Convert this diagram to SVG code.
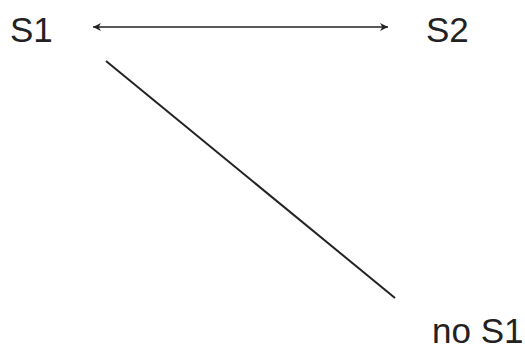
<svg xmlns="http://www.w3.org/2000/svg" width="525" height="361" viewBox="0 0 525 361">
<defs>
<style>
text{font-family:"Liberation Sans",Arial,sans-serif;font-size:35px;fill:#222}
.c{stroke:#222;fill:none}
</style>
<marker id="ah" viewBox="0 0 10 10" refX="10" refY="5" markerWidth="8" markerHeight="8" markerUnits="userSpaceOnUse" orient="auto-start-reverse">
<path d="M0,0 L10,5 L0,10 L3,5 z" fill="#222"/>
</marker>
</defs>
<rect width="525" height="361" fill="#fff"/>
<g id="connectors">
<line class="c" x1="93" y1="27" x2="388" y2="27" stroke-width="1.3" marker-start="url(#ah)" marker-end="url(#ah)"/>
<line class="c" x1="106" y1="61" x2="395" y2="298" stroke-width="2"/>
</g>
<g id="s1"><text x="10" y="42">S1</text></g>
<g id="s2"><text x="426" y="42">S2</text></g>
<g id="nos1"><text x="432" y="343">no S1</text></g>
</svg>
